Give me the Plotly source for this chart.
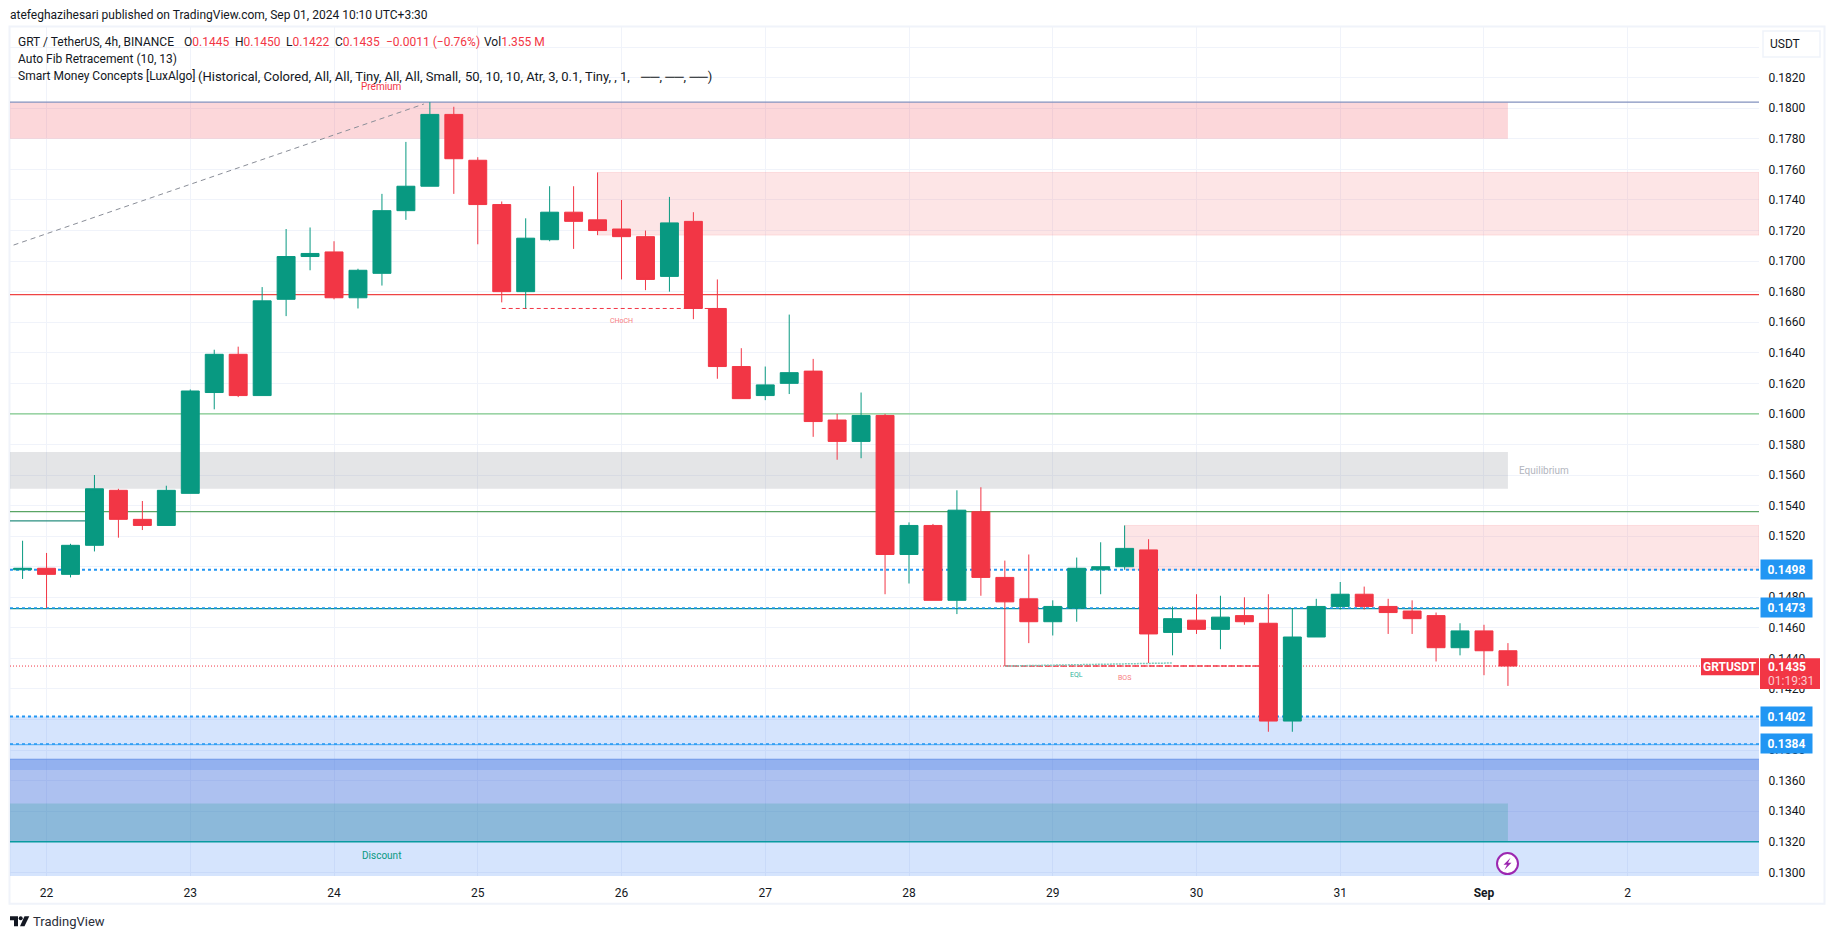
import pandas as pd
import plotly.graph_objects as go

# candle values, 4h bars
first_bar = "2024-08-21 20:00"
opens = [.1498, .1499, .1495, .1514, .1550, .1531, .1527, .1548, .1614, .1639, .1612, .1675, .1703, .1706, .1676, .1692,
         .1733, .1749, .1796, .1766, .1737, .1680, .1714, .1732, .1727, .1721, .1716, .1690, .1726, .1669, .1631, .1612,
         .1620, .1628, .1596, .1582, .1599, .1508, .1527, .1478, .1536, .1493, .1479, .1464, .1473, .1498, .1500, .1511,
         .1457, .1465, .1459, .1468, .1463, .1399, .1454, .1474, .1482, .1474, .1471, .1468, .1447, .1458, .1445]
highs = [.1517, .1509, .1515, .1560, .1551, .1543, .1553, .1616, .1642, .1644, .1683, .1721, .1722, .1713, .1695, .1744,
         .1778, .1804, .1801, .1768, .1739, .1728, .1749, .1749, .1758, .1740, .1720, .1742, .1732, .1688, .1643, .1631,
         .1665, .1636, .1600, .1614, .1600, .1529, .1528, .1550, .1552, .1504, .1508, .1478, .1506, .1516, .1527, .1518,
         .1474, .1482, .1481, .1480, .1482, .1473, .1479, .1490, .1487, .1479, .1478, .1470, .1463, .1462, .1450]
lows = [.1492, .1473, .1493, .1510, .1519, .1524, .1527, .1548, .1603, .1611, .1612, .1664, .1694, .1675, .1669, .1684,
        .1727, .1749, .1744, .1711, .1673, .1669, .1713, .1708, .1717, .1688, .1681, .1680, .1662, .1623, .1610, .1609,
        .1613, .1585, .1570, .1571, .1482, .1489, .1478, .1469, .1481, .1435, .1450, .1455, .1464, .1482, .1498, .1437,
        .1442, .1456, .1446, .1462, .1392, .1392, .1454, .1472, .1472, .1456, .1456, .1438, .1442, .1429, .1422]
closes = [.1499, .1495, .1514, .1551, .1531, .1527, .1550, .1615, .1639, .1612, .1674, .1703, .1705, .1676, .1694, .1733,
          .1749, .1796, .1767, .1737, .1680, .1715, .1732, .1726, .1720, .1716, .1688, .1725, .1669, .1631, .1610, .1619,
          .1627, .1595, .1582, .1599, .1508, .1527, .1478, .1537, .1493, .1477, .1464, .1474, .1499, .1500, .1512, .1456,
          .1466, .1459, .1467, .1464, .1399, .1454, .1474, .1482, .1474, .1470, .1466, .1447, .1458, .1445, .1435]

day_ticks = ["2024-08-22", "2024-08-23", "2024-08-24", "2024-08-25", "2024-08-26", "2024-08-27",
             "2024-08-28", "2024-08-29", "2024-08-30", "2024-08-31", "2024-09-01", "2024-09-02"]
day_labels = ["22", "23", "24", "25", "26", "27", "28", "29", "30", "31", "<b>Sep</b>", "2"]
price_ticks = [.1300, .1320, .1340, .1360, .1380, .1400, .1420, .1440, .1460, .1480, .1500, .1520, .1540, .1560, .1580,
               .1600, .1620, .1640, .1660, .1680, .1700, .1720, .1740, .1760, .1780, .1800, .1820, .1840]
# the top gridline sits behind the USDT button and shows no label
price_labels = [f"{t:.4f}" for t in price_ticks[:-1]] + [""]

legend_parts = ["O0.1445", "H0.1450", "L0.1422", "C0.1435", "−0.0011 (−0.76%)", "Vol1.355 M"]

# axis limits
x_left = "2024-08-21 17:54"
x_right = "2024-09-02 21:55"
y_low = 0.12976
y_high = 0.18532

GREEN = "#089981"
RED = "#F23645"
BLUE = "#2196F3"
TEXT = "#131722"
FONT = "Roboto"
W, H = 1835, 939
ML, MR, MT, MB = 10, 76, 27, 63.3


def px(x):
    return (x - ML) / (W - ML - MR)


def py(y):
    return 1 - (y - MT) / (H - MT - MB)


def px_path(points):
    return "M " + " L ".join(f"{px(a):.5f} {py(b):.5f}" for a, b in points) + " Z"


def zone(x0, x1, top, bottom, fill, line=None):
    return dict(type="rect", xref="x", yref="y", x0=x0, x1=x1, y0=bottom, y1=top, fillcolor=fill,
                line=dict(color=line, width=1) if line else dict(width=0), layer="between")


def level(y, color, width=1, dash="solid", x0=x_left, x1=x_right):
    return dict(type="line", xref="x", yref="y", x0=x0, x1=x1, y0=y, y1=y,
                line=dict(color=color, width=width, dash=dash), layer="between")


def box_px(x0, y0, x1, y1, fill):
    return dict(type="rect", xref="paper", yref="paper", x0=px(x0), x1=px(x1), y0=py(y1), y1=py(y0),
                fillcolor=fill, line=dict(width=0), layer="above")


def text_px(x, y, text, size=12, color=TEXT, anchor="left"):
    # annotations carry about 2px of padding on the left
    x = x - 2 if anchor == "left" else x
    return dict(xref="paper", yref="paper", x=px(x), y=py(y), text=text, showarrow=False, xanchor=anchor,
                yanchor="middle", font=dict(family=FONT, size=size, color=color))


def text_data(x, y, text, size, color):
    return dict(xref="x", yref="y", x=x, y=y, text=text, showarrow=False, xanchor="center", yanchor="middle",
                font=dict(family=FONT, size=size, color=color))


def badge(y, text):
    return dict(xref="paper", yref="y", x=px(1760), y=y, text=f"<b>{text}</b>", showarrow=False, xanchor="left",
                yanchor="middle", width=49, height=17, bgcolor=BLUE, align="center",
                font=dict(family=FONT, size=12, color="white"))


times = pd.date_range(first_bar, periods=len(opens), freq="4h")

fig = go.Figure(go.Candlestick(
    x=times, open=opens, high=highs, low=lows, close=closes,
    increasing=dict(line=dict(color=GREEN, width=1), fillcolor=GREEN),
    decreasing=dict(line=dict(color=RED, width=1), fillcolor=RED),
    whiskerwidth=0,
))

zone_end = "2024-09-01 04:00"
shapes = [
    # premium / equilibrium / discount zones
    zone(x_left, zone_end, .1804, .1780, "rgba(242,54,69,0.2)"),
    zone("2024-08-25 20:00", x_right, .1758, .1717, "rgba(247,124,128,0.2)", "rgba(247,124,128,0.2)"),
    zone("2024-08-29 12:00", x_right, .1527, .1498, "rgba(247,124,128,0.2)", "rgba(247,124,128,0.2)"),
    zone(x_left, zone_end, .1575, .1551, "rgba(120,123,134,0.2)"),
    zone(x_left, x_right, .1402, y_low, "rgba(45,120,245,0.2)"),
    zone(x_left, x_right, .1374, .1320, "rgba(41,74,196,0.227)"),
    zone(x_left, x_right, .1374, .1367, "rgba(44,113,235,0.2)"),
    zone(x_left, zone_end, .1345, .1320, "rgba(8,153,129,0.2)"),
    # levels
    level(.1804, "#8291BE", 1.25),
    level(.1678, "#EF4444", 1.25),
    level(.1600, "#7FC98A", 1.25),
    level(.1536, "#5AA564", 1.25),
    level(.1530, "#2A8F80", 1.25, "solid", x_left, "2024-08-22 08:00"),
    level(.14725, "#0B8F90", 1.25),
    level(.13835, "#64B5F6", 1.25),
    level(.1374, "#6F96E8"),
    level(.1320, "#089AA0", 1.5),
    level(.1435, RED, 1, "1px,2px"),
    level(.1498, BLUE, 2, "dot"),
    level(.1473, BLUE, 1.5, "dot"),
    level(.1402, BLUE, 2, "dot"),
    level(.1384, BLUE, 1.5, "dot"),
    # structure lines
    level(.1669, RED, 1, "4px,3px", "2024-08-25 04:00", "2024-08-26 16:00"),
    level(.1435, RED, 1.5, "6px,2px", "2024-08-28 16:00", "2024-08-30 12:00"),
    dict(type="line", xref="x", yref="y", x0="2024-08-28 16:00", x1="2024-08-29 20:00", y0=.1435, y1=.1437,
         line=dict(color="#7CCBBD", width=1.5, dash="2px,1px"), layer="between"),
    dict(type="line", xref="x", yref="y", x0="2024-08-21 18:30", x1="2024-08-24 15:00", y0=.17105, y1=.18028,
         line=dict(color="#8A8E98", width=1, dash="5px,4px"), layer="between"),
    # frame around the chart
    dict(type="rect", xref="paper", yref="paper", x0=px(9.5), x1=px(1824.5), y0=py(903.5), y1=py(26.5),
         line=dict(color="#F0F3FA", width=2), layer="below"),
    # USDT button
    dict(type="rect", xref="paper", yref="paper", x0=px(1763), x1=px(1820), y0=py(57), y1=py(31),
         fillcolor="white", line=dict(color="#F0F3FA", width=1.5), layer="above"),
    # price + symbol labels
    box_px(1760, 658, 1820, 688.7, RED),
    box_px(1701, 658, 1759, 675, RED),
    # lightning badge
    dict(type="circle", xref="paper", yref="paper", x0=px(1497), x1=px(1518), y0=py(873.8), y1=py(852.8),
         fillcolor="white", line=dict(color="#9C27B0", width=2), layer="above"),
    dict(type="path", xref="paper", yref="paper", layer="above", fillcolor="#9C27B0", line=dict(width=0),
         path=px_path([(1510.5, 857.5), (1503.5, 864.5), (1507, 864.5), (1504.5, 869.5), (1511.5, 862.5),
                       (1508, 862.5)])),
    # TradingView logo
    dict(type="path", xref="paper", yref="paper", layer="above", fillcolor=TEXT, line=dict(width=0),
         path=px_path([(10, 916), (18, 916), (18, 926), (14, 926), (14, 920), (10, 920)])),
    dict(type="circle", xref="paper", yref="paper", layer="above", fillcolor=TEXT, line=dict(width=0),
         x0=px(18.7), x1=px(22.7), y0=py(920), y1=py(916)),
    dict(type="path", xref="paper", yref="paper", layer="above", fillcolor=TEXT, line=dict(width=0),
         path=px_path([(24.5, 916), (29.3, 916), (24.5, 926), (20, 926)])),
]

legend_x = [184, 235, 286, 335, 386, 484]
annotations = [
    text_px(10, 15, "atefeghazihesari published on TradingView.com, Sep 01, 2024 10:10 UTC+3:30"),
    text_px(18, 42, "GRT / TetherUS, 4h, BINANCE"),
    text_px(18, 59, "Auto Fib Retracement (10, 13)"),
    text_px(18, 76, "Smart Money Concepts [LuxAlgo]"),
    text_px(198, 76, "(Historical, Colored, All, All, Tiny, All, All, Small,", 13),
    text_px(465, 76, "50, 10, 10, Atr, 3, 0.1, Tiny, , 1,", 13),
    text_px(640, 76, "──, ──, ──)", 13),
    text_px(1770, 44, "USDT"),
    text_px(33, 921.5, "TradingView", 13, "#2A2E39"),
    text_data("2024-08-24 08:00", .18141, "Premium", 10, RED),
    text_data("2024-08-24 08:00", .13107, "Discount", 10, GREEN),
    text_data("2024-09-01 10:00", .15627, "Equilibrium", 10, "#B2B5BE"),
    text_data("2024-08-26 00:00", .16609, "CHoCH", 7, "#F77C80"),
    text_data("2024-08-29 04:00", .14292, "EQL", 7, "#2FB39C"),
    text_data("2024-08-29 12:00", .14275, "BOS", 7, "#F77C80"),
    badge(.1498, "0.1498"),
    badge(.1473, "0.1473"),
    badge(.1402, "0.1402"),
    badge(.1384, "0.1384"),
    text_px(1767.5, 666.5, "<b>0.1435</b>", 12, "white"),
    text_px(1767.5, 680.5, "01:19:31", 12, "#FBC9CD"),
    text_px(1730, 666.5, "<b>GRTUSDT</b>", 12, "white", "center"),
]
for part, part_x in zip(legend_parts, legend_x):
    head = part[0] if part[0] in "OHLC" else ("Vol" if part.startswith("Vol") else "")
    body = part[len(head):]
    annotations.append(text_px(part_x, 42, f"{head}<span style='color:{RED}'>{body}</span>"))

fig.update_layout(
    width=W, height=H,
    margin=dict(l=ML, r=MR, t=MT, b=MB),
    paper_bgcolor="white", plot_bgcolor="white",
    showlegend=False,
    boxgap=0.14,
    boxgroupgap=0.13,
    shapes=shapes,
    annotations=annotations,
    font=dict(family=FONT, size=12, color=TEXT),
    xaxis=dict(range=[x_left, x_right], tickmode="array", tickvals=day_ticks, ticktext=day_labels,
               showgrid=True, gridcolor="#F0F3FA", gridwidth=1, zeroline=False, showline=False,
               ticks="outside", ticklen=6, tickcolor="rgba(0,0,0,0)", tickangle=0,
               rangeslider=dict(visible=False)),
    yaxis=dict(range=[y_low, y_high], side="right", tickmode="array", tickvals=price_ticks,
               ticktext=price_labels,
               showgrid=True, gridcolor="#F0F3FA", gridwidth=1, zeroline=False, showline=False,
               ticks="outside", ticklen=6, tickcolor="rgba(0,0,0,0)"),
)

fig.write_html("out.html", config={"displayModeBar": False},
               post_script="document.body.style.margin='0';")
